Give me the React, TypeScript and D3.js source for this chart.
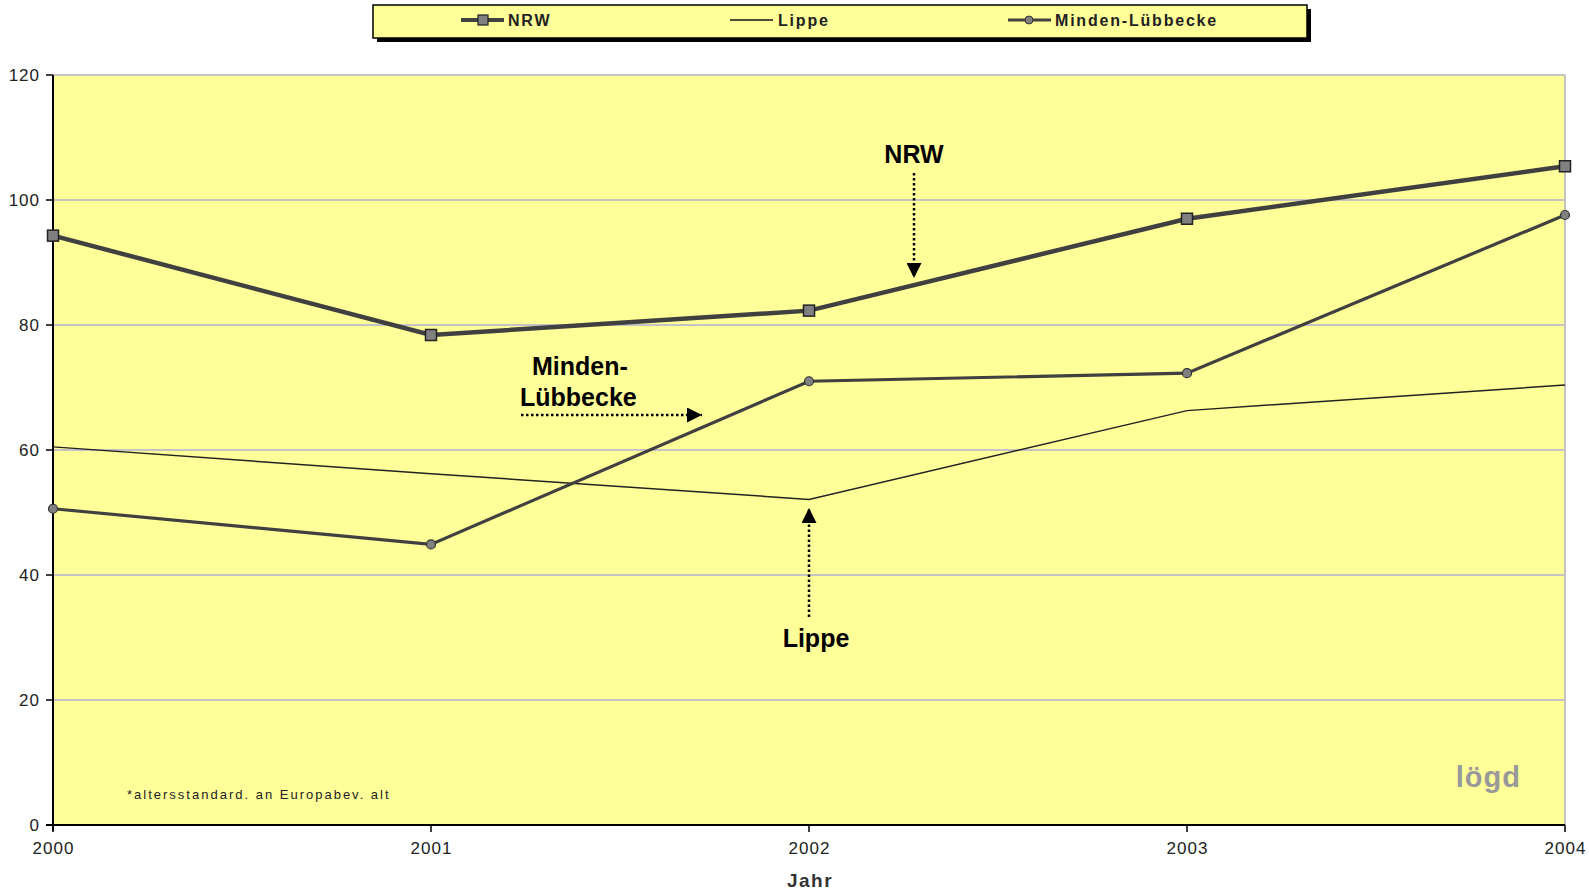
import { useMemo } from "react";
import * as d3 from "d3";

const years = [2000, 2001, 2002, 2003, 2004];
const nrw = [94.3, 78.4, 82.3, 97.0, 105.4];
const lippe = [60.5, 56.2, 52.1, 66.3, 70.4];
const minden = [50.6, 44.9, 71.0, 72.3, 97.6];
const yTicks = [0, 20, 40, 60, 80, 100, 120];

const W = 1589;
const H = 893;
const M = { left: 53, right: 1565, top: 75, bottom: 825 };
const FONT = "Liberation Sans, Arial, sans-serif";

export default function App() {
  const x = useMemo(() => d3.scaleLinear().domain([2000, 2004]).range([M.left, M.right]), []);
  const y = useMemo(() => d3.scaleLinear().domain([0, 120]).range([M.bottom, M.top]), []);
  const line = d3
    .line<number>()
    .x((_, i) => x(years[i]))
    .y((d) => y(d));

  const dotted = "2.5 2.5";

  return (
    <svg
      width={W}
      height={H}
      style={{ position: "absolute", left: 0, top: 0, background: "#fff" }}
      fontFamily={FONT}
    >
      <defs>
        <marker id="arr" viewBox="0 0 10 10" refX="10" refY="5" markerWidth="15" markerHeight="15" markerUnits="userSpaceOnUse" orient="auto">
          <path d="M0,0 L10,5 L0,10 Z" fill="#000" />
        </marker>
      </defs>

      {/* legend */}
      <rect x={377} y={9} width={934} height={33} fill="#000" />
      <rect x={373} y={5} width={934} height={33} fill="#ffff99" stroke="#000" strokeWidth={1.5} />
      <g fontSize={16} fontWeight="bold" fill="#222" letterSpacing={1.8}>
        <line x1={461} x2={504} y1={20} y2={20} stroke="#404040" strokeWidth={4} />
        <rect x={478} y={15} width={10} height={10} fill="#808080" stroke="#222" strokeWidth={1.2} />
        <text x={508} y={26}>NRW</text>
        <line x1={730} x2={773} y1={20} y2={20} stroke="#111" strokeWidth={1.5} />
        <text x={778} y={26}>Lippe</text>
        <line x1={1008} x2={1051} y1={20} y2={20} stroke="#404040" strokeWidth={3} />
        <circle cx={1029} cy={20} r={4} fill="#808080" stroke="#333" strokeWidth={1} />
        <text x={1055} y={26}>Minden-Lübbecke</text>
      </g>

      {/* plot area */}
      <rect x={M.left} y={M.top} width={M.right - M.left} height={M.bottom - M.top} fill="#ffff99" />
      {yTicks.slice(1).map((t) => (
        <line key={t} x1={M.left} x2={M.right} y1={y(t)} y2={y(t)} stroke="#c4c4c4" strokeWidth={2} />
      ))}
      <line x1={M.right} x2={M.right} y1={M.top} y2={M.bottom} stroke="#c4c4c4" strokeWidth={2} />
      <line x1={M.left} x2={M.left} y1={M.top} y2={M.bottom + 6} stroke="#000" strokeWidth={2} />
      <line x1={M.left - 7} x2={M.right} y1={M.bottom} y2={M.bottom} stroke="#000" strokeWidth={2} />
      {yTicks.map((t) => (
        <g key={t}>
          <line x1={M.left - 7} x2={M.left} y1={y(t)} y2={y(t)} stroke="#000" strokeWidth={1.5} />
          <text x={40} y={y(t) + 6} textAnchor="end" fontSize={17} fill="#222" letterSpacing={1}>
            {t}
          </text>
        </g>
      ))}
      {years.map((yr) => (
        <g key={yr}>
          <line x1={x(yr)} x2={x(yr)} y1={M.bottom} y2={M.bottom + 7} stroke="#000" strokeWidth={1.5} />
          <text x={x(yr) + 0.5} y={854} textAnchor="middle" fontSize={17} fill="#222" letterSpacing={1}>
            {yr}
          </text>
        </g>
      ))}
      <text x={x(2002) + 1} y={887} textAnchor="middle" fontSize={19} fontWeight="bold" fill="#333" letterSpacing={1.5}>
        Jahr
      </text>

      {/* series */}
      <path d={line(lippe) ?? ""} fill="none" stroke="#222" strokeWidth={1.5} />
      <path d={line(minden) ?? ""} fill="none" stroke="#404040" strokeWidth={3.2} />
      <path d={line(nrw) ?? ""} fill="none" stroke="#404040" strokeWidth={4.5} />
      {minden.map((v, i) => (
        <circle key={i} cx={x(years[i])} cy={y(v)} r={4.5} fill="#808080" stroke="#333" strokeWidth={1.2} />
      ))}
      {nrw.map((v, i) => (
        <rect key={i} x={x(years[i]) - 5.5} y={y(v) - 5.5} width={11} height={11} fill="#808080" stroke="#222" strokeWidth={1.5} />
      ))}

      {/* annotations */}
      <g fontSize={25} fontWeight="bold" fill="#000">
        <text x={914} y={163} textAnchor="middle">NRW</text>
        <line x1={914} x2={914} y1={173} y2={278} stroke="#000" strokeWidth={2.5} strokeDasharray={dotted} markerEnd="url(#arr)" />
        <text x={532} y={375}>Minden-</text>
        <text x={520} y={406}>Lübbecke</text>
        <line x1={521} x2={702} y1={415} y2={415} stroke="#000" strokeWidth={2.5} strokeDasharray={dotted} markerEnd="url(#arr)" />
        <text x={816} y={647} textAnchor="middle">Lippe</text>
        <line x1={809} x2={809} y1={617} y2={508} stroke="#000" strokeWidth={2.5} strokeDasharray={dotted} markerEnd="url(#arr)" />
      </g>

      <text x={127} y={799} fontSize={13} fill="#222" letterSpacing={2}>*altersstandard. an Europabev. alt</text>
      <text x={1521} y={787} textAnchor="end" fontSize={29} fontWeight="bold" fill="#999" letterSpacing={1}>lögd</text>
    </svg>
  );
}
